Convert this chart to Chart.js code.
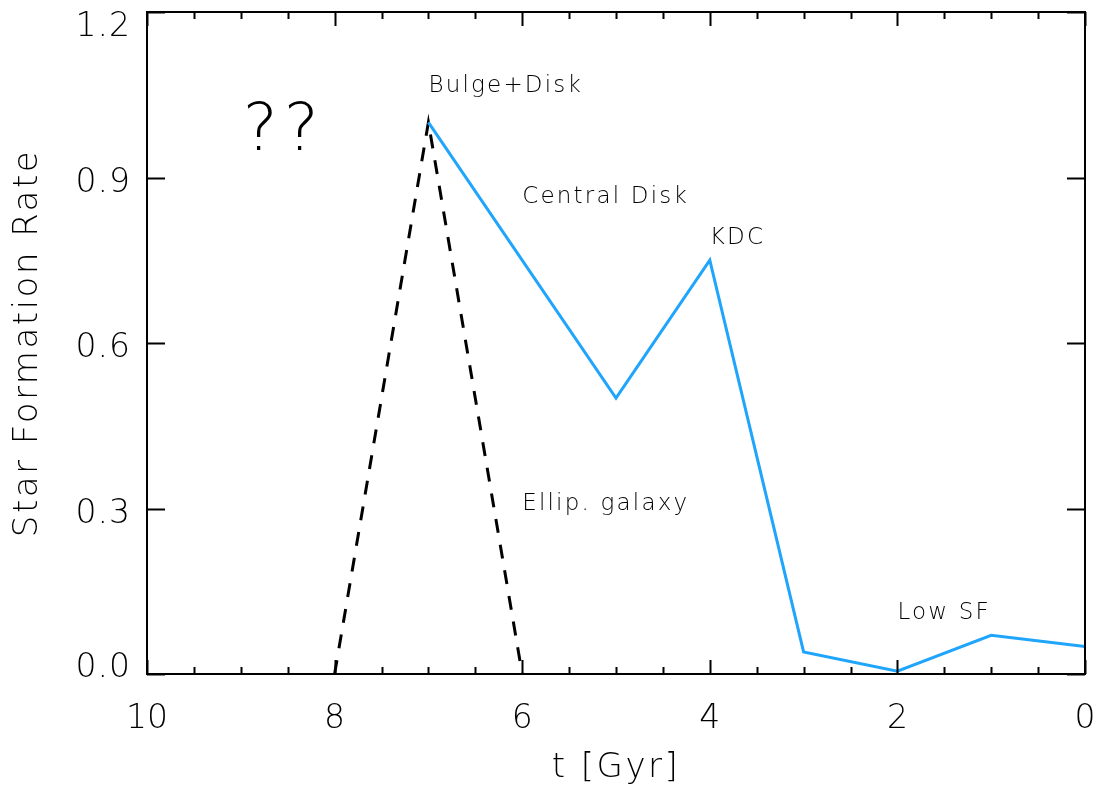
<!DOCTYPE html>
<html>
<head>
<meta charset="utf-8">
<script src="https://cdn.jsdelivr.net/npm/chart.js@4/dist/chart.umd.min.js"></script>
<style>
  html, body { margin: 0; padding: 0; background: #ffffff; }
  #wrap { width: 1099px; height: 791px; }
</style>
</head>
<body>
<div id="wrap"><canvas id="c" width="1099" height="791"></canvas></div>
<script>
// Star formation history, time in Gyr (lookback), SFR in arbitrary units
const timeDisk = [7, 5, 4, 3, 2, 1, 0];
const sfrDisk = [1.0, 0.5, 0.75, 0.04, 0.005, 0.07, 0.05];
const timeEllip = [8, 7, 6];
const sfrEllip = [0, 1.0, 0];

// Axis ticks
const yTickValues = [0, 0.3, 0.6, 0.9, 1.2];
const yTickLabels = ['0.0', '0.3', '0.6', '0.9', '1.2'];

// Text annotations placed in data coordinates (left edge, baseline)
const noteTexts = ['??', 'Bulge+Disk', 'Central Disk', 'KDC', 'Ellip. galaxy', 'Low SF'];
const noteTime = [8.98, 7.0, 6.0, 4.0, 6.0, 2.0];
const noteSfr = [0.95, 1.055, 0.853, 0.780, 0.298, 0.099];

const FONT = '"DejaVu Sans", "Liberation Sans", sans-serif';
const INK = '#000000';

function toPoints(xs, ys) {
  return xs.map((x, i) => ({ x: x, y: ys[i] }));
}

const framePlugin = {
  id: 'frame',
  afterDraw(chart) {
    const ctx = chart.ctx;
    const a = chart.chartArea;
    const xs = chart.scales.x;
    const ys = chart.scales.y;
    ctx.save();

    // plot box
    ctx.strokeStyle = '#000';
    ctx.lineWidth = 2;
    ctx.strokeRect(a.left, a.top, a.right - a.left, a.bottom - a.top);

    // inward tick marks on bottom and top (minor every 0.5, major every 2)
    ctx.beginPath();
    for (let k = 0; k <= 20; k++) {
      const v = k * 0.5;
      const px = Math.round(xs.getPixelForValue(v)) + 0.5;
      const len = (k % 4 === 0) ? 14 : 7;
      ctx.moveTo(px, a.bottom);
      ctx.lineTo(px, a.bottom - len);
      ctx.moveTo(px, a.top);
      ctx.lineTo(px, a.top + len);
    }
    // inward tick marks on left and right
    yTickValues.forEach(v => {
      const py = Math.round(ys.getPixelForValue(v)) + 0.5;
      ctx.moveTo(a.left, py);
      ctx.lineTo(a.left + 18, py);
      ctx.moveTo(a.right, py);
      ctx.lineTo(a.right - 18, py);
    });
    ctx.stroke();

    // y tick labels
    ctx.fillStyle = INK;
    ctx.font = '200 33px ' + FONT;
    ctx.textAlign = 'right';
    ctx.textBaseline = 'alphabetic';
    ctx.letterSpacing = '1px';
    yTickValues.forEach((v, i) => {
      let cy = ys.getPixelForValue(v) + 2;
      cy = Math.min(Math.max(cy, a.top + 12), a.bottom - 9);
      ctx.fillText(yTickLabels[i], a.left - 16, cy + 12);
    });

    // axis titles
    ctx.font = '200 34px ' + FONT;
    ctx.letterSpacing = '2.5px';
    ctx.textAlign = 'center';
    ctx.textBaseline = 'middle';
    ctx.fillText('t [Gyr]', (a.left + a.right) / 2, 768);
    ctx.save();
    ctx.translate(28, (a.top + a.bottom) / 2);
    ctx.rotate(-Math.PI / 2);
    ctx.fillText('Star Formation Rate', 0, 0);
    ctx.restore();

    // annotations
    ctx.textAlign = 'left';
    ctx.textBaseline = 'alphabetic';
    noteTexts.forEach((t, i) => {
      if (t === '??') {
        ctx.font = '200 66px ' + FONT;
        ctx.letterSpacing = '6px';
      } else {
        ctx.font = '200 23px ' + FONT;
        ctx.letterSpacing = '2.2px';
      }
      ctx.fillText(t, xs.getPixelForValue(noteTime[i]), ys.getPixelForValue(noteSfr[i]));
    });
    ctx.restore();
  }
};

new Chart(document.getElementById('c'), {
  type: 'line',
  data: {
    datasets: [
      {
        label: 'Bulge+Disk',
        data: toPoints(timeDisk, sfrDisk),
        borderColor: '#1fa5fb',
        borderWidth: 3,
        pointRadius: 0,
        tension: 0,
        fill: false
      },
      {
        label: 'Ellip. galaxy',
        data: toPoints(timeEllip, sfrEllip),
        borderColor: '#000000',
        borderWidth: 3,
        borderDash: [14, 12],
        pointRadius: 0,
        tension: 0,
        fill: false
      }
    ]
  },
  options: {
    responsive: false,
    animation: false,
    events: [],
    layout: { padding: { top: 12, right: 14, bottom: 0, left: 0 } },
    plugins: {
      legend: { display: false },
      tooltip: { enabled: false }
    },
    scales: {
      x: {
        type: 'linear',
        min: 0,
        max: 10,
        reverse: true,
        grid: { display: false, drawTicks: false },
        border: { display: false },
        ticks: {
          stepSize: 2,
          padding: 26,
          color: INK,
          font: { family: FONT, size: 33, weight: '200' },
          callback: v => String(v)
        },
        afterFit(scale) {
          scale.height = 117;
          scale.paddingLeft = 0;
          scale.paddingRight = 0;
        }
      },
      y: {
        type: 'linear',
        min: 0,
        max: 1.2,
        grid: { display: false, drawTicks: false },
        border: { display: false },
        ticks: { display: false },
        afterFit(scale) { scale.width = 147; }
      }
    }
  },
  plugins: [framePlugin]
});
</script>
</body>
</html>
